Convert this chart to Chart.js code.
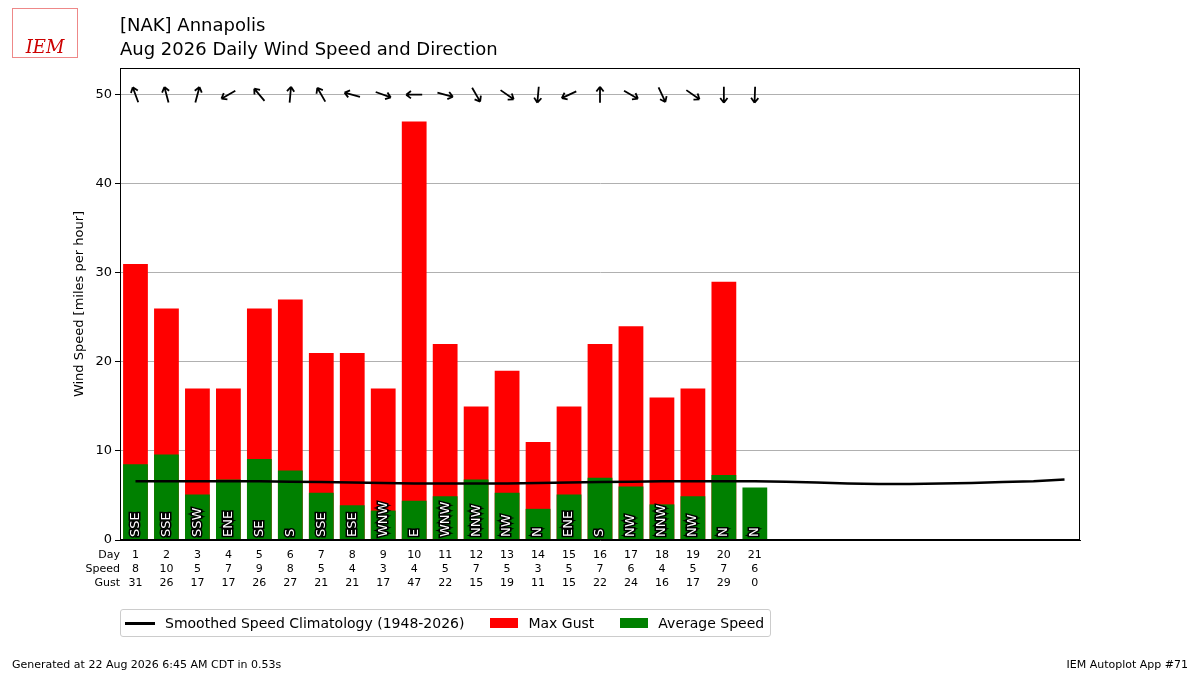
<!DOCTYPE html>
<html><head><meta charset="utf-8">
<script src="https://cdn.jsdelivr.net/npm/chart.js@4"></script>
<style>
body{margin:0;background:#fff;font-family:"DejaVu Sans",sans-serif;}
#wrap{position:relative;width:1200px;height:675px;}
canvas{position:absolute;left:0;top:0;}
.t{position:absolute;left:120px;font-size:18px;color:#000;}
.legend{position:absolute;left:120px;top:609px;height:26px;border:1px solid #ccc;border-radius:3px;font-size:14px;display:flex;align-items:center;padding:0 6px 0 4px;}
.legend span{display:inline-flex;align-items:center;margin-right:26px;}
.legend span:last-child{margin-right:0}
.foot{position:absolute;top:658px;font-size:11px;}
.logo{position:absolute;left:12px;top:8px;width:64px;height:48px;border:1px solid #e88;color:#c00;font:italic 18px "DejaVu Serif",serif;display:flex;align-items:flex-end;justify-content:center;}
</style></head><body>
<div id="wrap">
<canvas id="c" width="1200" height="675"></canvas>
<div class="logo">IEM</div>
<div class="t" style="top:14px">[NAK] Annapolis</div>
<div class="t" style="top:38px">Aug 2026 Daily Wind Speed and Direction</div>
<div class="legend">
<span><i style="display:inline-block;width:30px;height:3px;background:#000;margin-right:10px"></i>Smoothed Speed Climatology (1948-2026)</span>
<span><i style="display:inline-block;width:28px;height:10px;background:red;margin-right:10px"></i>Max Gust</span>
<span><i style="display:inline-block;width:28px;height:10px;background:green;margin-right:10px"></i>Average Speed</span>
</div>
<div class="foot" style="left:12px">Generated at 22 Aug 2026 6:45 AM CDT in 0.53s</div>
<div class="foot" style="right:12px">IEM Autoplot App #71</div>
</div>
<script>
const days = Array.from({length: 31}, (_, i) => String(i + 1));
const avgSpeed = [8.5, 9.6, 5.1, 6.8, 9.1, 7.8, 5.3, 3.9, 3.3, 4.4, 4.9, 6.8, 5.3, 3.5, 5.1, 7.0, 6.0, 4.0, 4.9, 7.3, 5.9];
const speedLabels = [8, 10, 5, 7, 9, 8, 5, 4, 3, 4, 5, 7, 5, 3, 5, 7, 6, 4, 5, 7, 6];
const maxGust = [31, 26, 17, 17, 26, 27, 21, 21, 17, 47, 22, 15, 19, 11, 15, 22, 24, 16, 17, 29, 0];
const directions = ["SSE", "SSE", "SSW", "ENE", "SE", "S", "SSE", "ESE", "WNW", "E", "WNW", "NNW", "NW", "N", "ENE", "S", "NW", "NNW", "NW", "N", "N"];
const dirDegrees = [160, 165, 195, 60, 140, 185, 150, 105, 290, 90, 285, 330, 305, 5, 65, 180, 300, 335, 305, 0, 2];
const climo = [6.6, 6.6, 6.6, 6.6, 6.6, 6.55, 6.5, 6.45, 6.4, 6.35, 6.35, 6.35, 6.35, 6.4, 6.45, 6.5, 6.55, 6.6, 6.6, 6.6, 6.6, 6.55, 6.45, 6.35, 6.3, 6.3, 6.35, 6.4, 6.5, 6.6, 6.8];
const yTicks = [0, 10, 20, 30, 40, 50];

const extras = {
  id: "extras",
  afterDatasetsDraw(chart) {
    const ctx = chart.ctx, x = chart.scales.x, y = chart.scales.y;
    ctx.save();
    // direction labels inside green bars
    ctx.font = "13px 'DejaVu Sans'";
    ctx.textAlign = "left"; ctx.textBaseline = "middle";
    directions.forEach((d, i) => {
      ctx.save();
      ctx.translate(x.getPixelForValue(i), y.getPixelForValue(0) - 3);
      ctx.rotate(-Math.PI / 2);
      ctx.lineWidth = 3; ctx.strokeStyle = "#000"; ctx.strokeText(d, 0, 0);
      ctx.fillStyle = "#fff"; ctx.fillText(d, 0, 0);
      ctx.restore();
    });
    // arrows
    ctx.strokeStyle = "#000"; ctx.lineWidth = 1.8;
    dirDegrees.forEach((deg, i) => {
      const cx = x.getPixelForValue(i), cy = y.getPixelForValue(50);
      const a = (deg + 180) * Math.PI / 180;
      const dx = Math.sin(a), dy = -Math.cos(a), L = 8;
      const tx = cx + dx * L, ty = cy + dy * L;
      ctx.beginPath();
      ctx.moveTo(cx - dx * L, cy - dy * L); ctx.lineTo(tx, ty);
      [2.6, -2.6].forEach(s => {
        const b = Math.atan2(dy, dx) + Math.PI + s * 0.25;
        ctx.moveTo(tx, ty); ctx.lineTo(tx + Math.cos(b) * 6, ty + Math.sin(b) * 6);
      });
      ctx.stroke();
    });
    // table
    ctx.fillStyle = "#000"; ctx.font = "11px 'DejaVu Sans'";
    const rows = [["Day", i => i + 1], ["Speed", i => speedLabels[i]], ["Gust", i => maxGust[i]]];
    rows.forEach((r, k) => {
      const ty = 555 + k * 14;
      ctx.textAlign = "right"; ctx.fillText(r[0], 120, ty);
      ctx.textAlign = "center";
      for (let i = 0; i < avgSpeed.length; i++) ctx.fillText(String(r[1](i)), x.getPixelForValue(i), ty);
    });
    // y title
    ctx.save();
    ctx.translate(80, (chart.chartArea.top + chart.chartArea.bottom) / 2);
    ctx.rotate(-Math.PI / 2);
    ctx.font = "13px 'DejaVu Sans'"; ctx.textAlign = "center";
    ctx.fillText("Wind Speed [miles per hour]", 0, 0);
    ctx.restore();
    ctx.restore();
  }
};

new Chart(document.getElementById("c"), {
  type: "bar",
  data: {
    labels: days,
    datasets: [
      { type: "line", data: climo, borderColor: "#000", borderWidth: 2.5, pointRadius: 0, order: 0 },
      { data: avgSpeed, backgroundColor: "green", grouped: false, order: 1, barPercentage: 0.8, categoryPercentage: 1 },
      { data: maxGust, backgroundColor: "red", grouped: false, order: 2, barPercentage: 0.8, categoryPercentage: 1 }
    ]
  },
  options: {
    responsive: false, animation: false,
    layout: { padding: { top: 68, right: 120, bottom: 135, left: 0 } },
    plugins: { legend: { display: false }, tooltip: { enabled: false } },
    scales: {
      x: { ticks: { display: false }, grid: { display: false }, border: { color: "#000" },
           afterFit: s => { s.height = 0; } },
      y: { min: 0, max: 53, ticks: { color: "#000", font: { size: 13, family: "DejaVu Sans" } },
           afterBuildTicks: s => { s.ticks = yTicks.map(v => ({ value: v })); },
           grid: { color: "#b0b0b0", drawTicks: true, tickColor: "#000", tickLength: 5 }, border: { color: "#000" },
           afterFit: s => { s.width = 120; } }
    }
  },
  plugins: [extras, {
    id: "frame",
    afterDraw(chart) {
      const a = chart.chartArea, ctx = chart.ctx;
      ctx.save(); ctx.strokeStyle = "#000"; ctx.lineWidth = 1;
      ctx.strokeRect(a.left + 0.5, a.top + 0.5, a.width - 1, a.height - 1); ctx.restore();
    }
  }]
});
</script>
</body></html>
